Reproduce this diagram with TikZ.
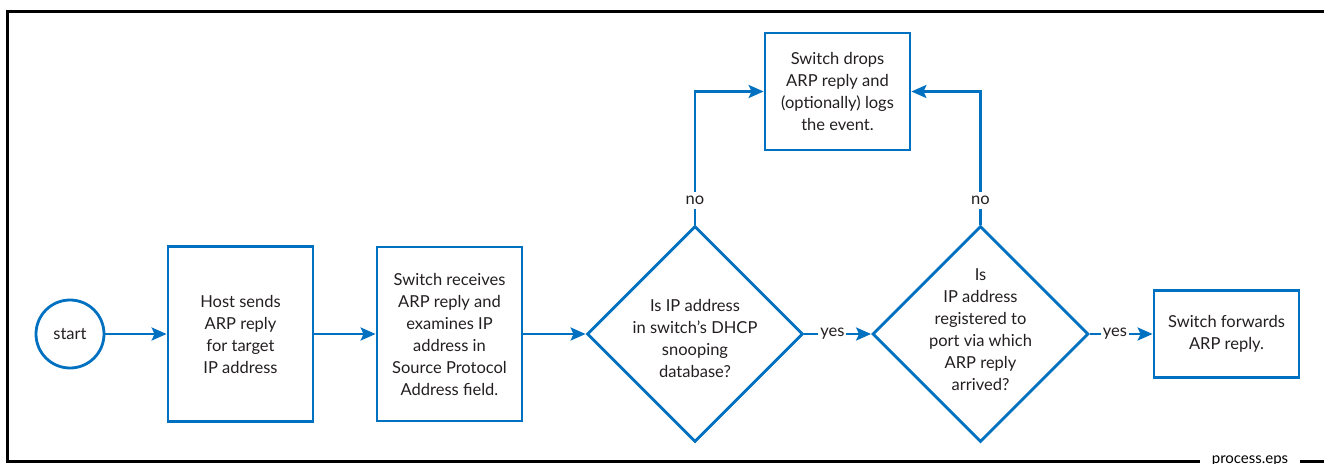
\documentclass[tikz,border=0pt]{standalone}
\usepackage{fontspec}
\setmainfont{Lato}
\usetikzlibrary{shapes.geometric,arrows.meta}
\definecolor{flowblue}{RGB}{0,112,192}
\definecolor{ink}{RGB}{35,31,32}

\begin{document}
\begin{tikzpicture}[x=1pt, y=-1pt,
    every node/.style={font=\fontsize{16.5}{22}\selectfont, text=ink},
    procbox/.style={draw=flowblue, line width=2.8pt, minimum width=145pt, align=center},
    decision/.style={diamond, draw=flowblue, line width=2.8pt,
      minimum width=216pt, minimum height=216pt, inner sep=0pt},
    flow/.style={draw=flowblue, line width=2.8pt,
      -{Stealth[length=15pt, width=13pt, inset=3pt]}},
    answer/.style={fill=white, inner xsep=2pt, inner ysep=4pt}]
  \useasboundingbox (0,0) rectangle (1324,463);

  % main line, left to right
  \node[circle, draw=flowblue, line width=2.8pt, minimum size=68pt, inner sep=0pt]
    (start) at (70,334) {start};
  \node[procbox, minimum height=175pt] (host) at (240.5,334)
    {Host sends\\ARP reply\\for target\\IP address};
  \node[procbox, minimum height=174pt] (examine) at (449.5,334)
    {Switch receives\\ARP reply and\\examines IP\\address in\\Source Protocol\\Address field.};
  \node[decision] (dhcp) at (695,334) {};
  \node[align=center, yshift=-4pt] (dhcptext) at (dhcp)
    {Is IP address\\in switch’s DHCP\\snooping\\database?};
  \node[decision] (port) at (980.5,334) {};
  \node[align=center, yshift=4pt] (porttext) at (port)
    {Is\\IP address\\registered to\\port via which\\ARP reply\\arrived?};
  \node[procbox, minimum height=87pt] (forward) at (1226.5,334)
    {Switch forwards\\ARP reply.};
  \node[procbox, minimum height=117pt] (drop) at (837.5,91.5)
    {Switch drops\\ARP reply and\\(optionally) logs\\the event.};

  \draw[flow] (start) -- (host);
  \draw[flow] (host) -- (examine);
  \draw[flow] (examine) -- (dhcp);
  \draw[flow] (dhcp) -- node[answer, pos=0.42] (yes1) {yes} (port);
  \draw[flow] (port) -- node[answer, pos=0.4] (yes2) {yes} (forward);
  \draw[flow] (dhcp.north) |- node[answer, pos=0.09] (no1) {no} (drop.west);
  \draw[flow] (port.north) |- node[answer, pos=0.09] (no2) {no} (drop.east);

  % frame with file name
  \coordinate (topright) at (1324,11);
  \coordinate (topleft) at (7,11);
  \coordinate (botleft) at (7,461);
  \coordinate (botright) at (1324,461);
  \node[anchor=base, minimum width=100pt, inner sep=0pt, text=black,
    font=\fontsize{15}{18}\selectfont] (fname) at (1250,463) {process.eps};
  \draw[line width=3pt] (topright) -- (topleft) -- (botleft) -- (fname.west |- botleft);
  \draw[line width=3pt] (fname.east |- botright) -- (botright);
\end{tikzpicture}
\end{document}
